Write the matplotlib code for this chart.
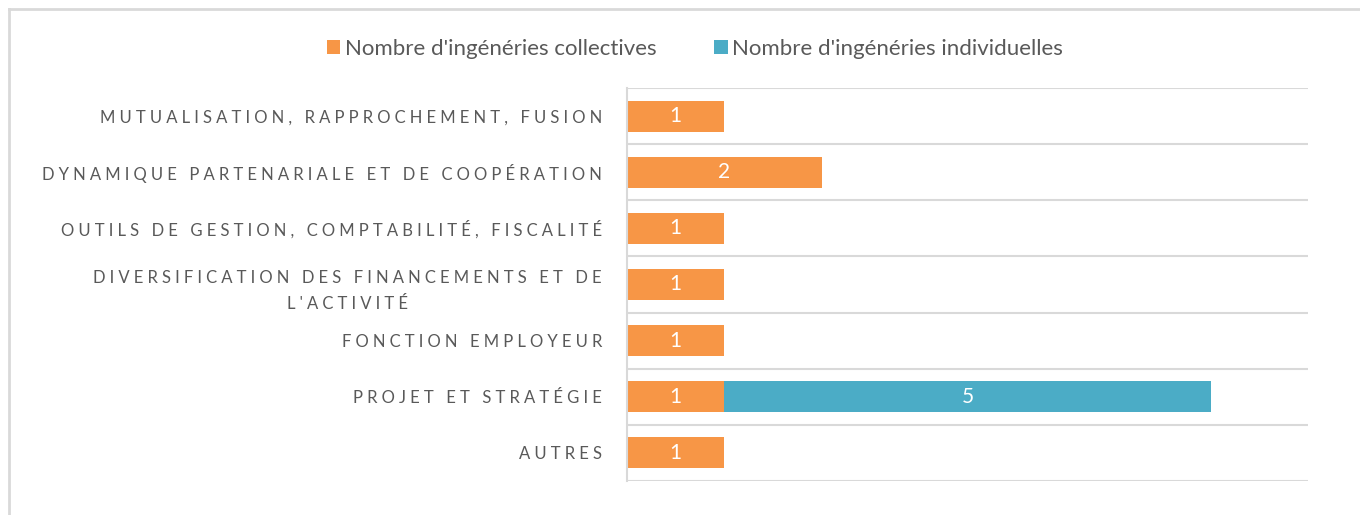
# Horizontal stacked bars: ingénéries collectives vs individuelles par thème.

import numpy as np
import matplotlib.pyplot as plt
from matplotlib.lines import Line2D

plt.rcParams["font.family"] = ["Lato", "DejaVu Sans"]

categories = [
    "MUTUALISATION, RAPPROCHEMENT, FUSION",
    "DYNAMIQUE PARTENARIALE ET DE COOPÉRATION",
    "OUTILS DE GESTION, COMPTABILITÉ, FISCALITÉ",
    "DIVERSIFICATION DES FINANCEMENTS ET DE\nL'ACTIVITÉ",
    "FONCTION EMPLOYEUR",
    "PROJET ET STRATÉGIE",
    "AUTRES",
]
collectives = [1, 2, 1, 1, 1, 1, 1]
individuelles = [0, 0, 0, 0, 0, 5, 0]
series_names = ["Nombre d'ingénéries collectives", "Nombre d'ingénéries individuelles"]

ORANGE = "#F79646"
BLUE = "#4BACC6"
GRID = "#D9D9D9"
TEXT = "#595959"


def spaced(label):
    # imitate the letter spacing of the original labels
    return "\n".join("\u2005".join(line) for line in label.split("\n"))


fig = plt.figure(figsize=(13.6, 5.15), dpi=100)
ax = fig.add_axes([627 / 1360, 34 / 515, 681 / 1360, 393 / 515])

y = np.arange(len(categories))
b1 = ax.barh(y, collectives, height=0.55, color=ORANGE, label=series_names[0])
b2 = ax.barh(y, individuelles, left=collectives, height=0.55, color=BLUE,
             label=series_names[1])
for bars, vals in [(b1, collectives), (b2, individuelles)]:
    ax.bar_label(bars, labels=[str(v) if v else "" for v in vals],
                 label_type="center", color="white", fontsize=15)

ax.set_xlim(0, 7)
ax.set_ylim(len(categories) - 0.5, -0.5)
for k in range(len(categories) + 1):
    ax.axhline(k - 0.5, color=GRID, lw=1.5, zorder=0)

ax.set_xticks([])
ax.set_yticks(y)
ax.set_yticklabels([spaced(c) for c in categories], fontsize=12, color=TEXT,
                   multialignment="center", linespacing=1.8)
ax.tick_params(axis="y", length=0, pad=18)
for side in ["top", "right", "bottom"]:
    ax.spines[side].set_visible(False)
ax.spines["left"].set_color(GRID)
ax.spines["left"].set_linewidth(1.5)

fig.legend(loc="center", bbox_to_anchor=(695 / 1360, 1 - 49 / 515), ncol=2,
           frameon=False, fontsize=16, labelcolor=TEXT, handlelength=0.6,
           handleheight=0.6, handletextpad=0.2, columnspacing=2.6)

# outer chart frame (cropped at right and bottom)
fig.add_artist(Line2D([9 / 1360, 9 / 1360], [0, 1 - 9 / 515], color=GRID, lw=2,
                      transform=fig.transFigure))
fig.add_artist(Line2D([9 / 1360, 1], [1 - 9 / 515, 1 - 9 / 515], color=GRID, lw=2,
                      transform=fig.transFigure))

fig.savefig("out.png", dpi=100)
